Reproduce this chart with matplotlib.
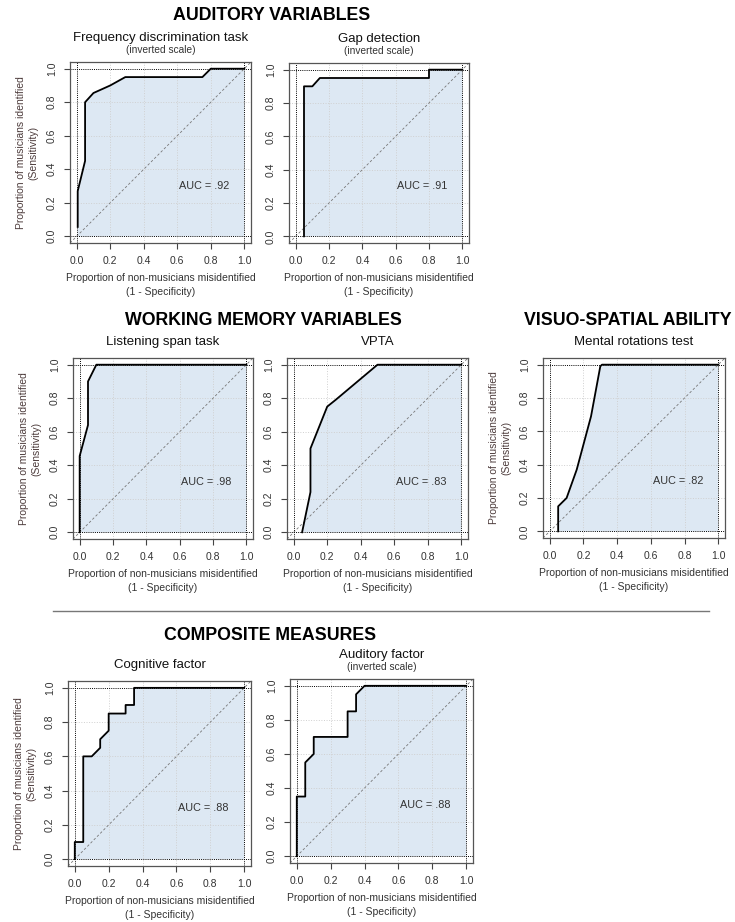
import matplotlib
matplotlib.use("Agg")
import matplotlib.pyplot as plt

plt.rcParams['font.family'] = ['Liberation Sans', 'DejaVu Sans']

W, H = 735, 922

# ROC curves (1 - specificity, sensitivity)
freq_fpr = [0.006, 0.006, 0.05, 0.05, 0.10, 0.20, 0.29, 0.75, 0.80, 1.0]
freq_tpr = [0.056, 0.27, 0.45, 0.80, 0.855, 0.90, 0.95, 0.95, 1.0, 1.0]

gap_fpr = [0.05, 0.05, 0.10, 0.145, 0.80, 0.80, 1.0]
gap_tpr = [0.0, 0.90, 0.90, 0.95, 0.95, 1.0, 1.0]

lspan_fpr = [0.0, 0.0, 0.05, 0.05, 0.10, 1.0]
lspan_tpr = [0.0, 0.455, 0.64, 0.90, 1.0, 1.0]

vpta_fpr = [0.05, 0.10, 0.10, 0.20, 0.25, 0.50, 1.0]
vpta_tpr = [0.0, 0.24, 0.50, 0.75, 0.79, 1.0, 1.0]

mrot_fpr = [0.05, 0.05, 0.10, 0.16, 0.245, 0.30, 0.31, 1.0]
mrot_tpr = [0.0, 0.15, 0.20, 0.37, 0.69, 0.99, 1.0, 1.0]

cog_fpr = [0.0, 0.0, 0.05, 0.05, 0.10, 0.15, 0.15, 0.20, 0.20, 0.30, 0.30, 0.35, 0.35, 1.0]
cog_tpr = [0.0, 0.10, 0.10, 0.60, 0.60, 0.65, 0.70, 0.75, 0.85, 0.85, 0.90, 0.90, 1.0, 1.0]

aud_fpr = [0.0, 0.0, 0.05, 0.05, 0.10, 0.10, 0.30, 0.30, 0.35, 0.35, 0.40, 1.0]
aud_tpr = [0.0, 0.35, 0.35, 0.55, 0.60, 0.70, 0.70, 0.85, 0.85, 0.95, 1.0, 1.0]

auc_labels = ['AUC = .92', 'AUC = .91', 'AUC = .98', 'AUC = .83',
              'AUC = .82', 'AUC = .88', 'AUC = .88']
panel_titles = ['Frequency discrimination task', 'Gap detection', 'Listening span task',
                'VPTA', 'Mental rotations test', 'Cognitive factor', 'Auditory factor']
inverted = [True, True, False, False, False, False, True]
has_ylabel = [True, False, True, False, True, True, False]
tick_vals = [0.0, 0.2, 0.4, 0.6, 0.8, 1.0]
tick_text = ['0.0', '0.2', '0.4', '0.6', '0.8', '1.0']

curves = [(freq_fpr, freq_tpr), (gap_fpr, gap_tpr), (lspan_fpr, lspan_tpr),
          (vpta_fpr, vpta_tpr), (mrot_fpr, mrot_tpr), (cog_fpr, cog_tpr),
          (aud_fpr, aud_tpr)]

# pixel boxes: left, top, right, bottom
boxes = [(70, 62, 251, 243), (289, 63, 469, 243),
         (73, 358, 253, 539), (287, 358, 468, 539), (543, 358, 725, 538),
         (68, 681, 251, 866), (290, 679, 473, 863)]

fig = plt.figure(figsize=(W / 100, H / 100), dpi=100)


def ftext(x, y, s, **kw):
    fig.text(x / W, 1 - y / H, s, ha='center', va='center', **kw)


fill_col = '#dde8f3'
label_col = '#4d3c3c'

for i, (fpr, tpr) in enumerate(curves):
    l, t, r, b = boxes[i]
    ax = fig.add_axes([l / W, 1 - b / H, (r - l) / W, (b - t) / H])
    ax.set_xlim(-0.04, 1.04)
    ax.set_ylim(-0.04, 1.04)

    for v in [0.2, 0.4, 0.6, 0.8]:
        ax.axvline(v, color='#d0d0d0', lw=0.7, ls=':', zorder=1)
        ax.axhline(v, color='#d0d0d0', lw=0.7, ls=':', zorder=1)

    px = list(fpr) + [1.0, fpr[0]]
    py = list(tpr) + [0.0, 0.0]
    ax.fill(px, py, color=fill_col, lw=0, zorder=0)

    for v in [0.0, 1.0]:
        ax.axvline(v, color='black', lw=0.7, ls=(0, (1, 1.2)), zorder=2)
        ax.axhline(v, color='black', lw=0.7, ls=(0, (1, 1.2)), zorder=2)

    ax.plot([-0.04, 1.04], [-0.04, 1.04], color='#777777', lw=0.6,
            ls=(0, (3, 2.5)), zorder=2)
    ax.plot(fpr, tpr, color='black', lw=1.3, zorder=3)

    ax.text(0.76, 0.30, auc_labels[i], ha='center', va='center',
            fontsize=7.8, color='#333333', zorder=4)

    ax.set_xticks(tick_vals)
    ax.set_xticklabels(tick_text)
    ax.set_yticks(tick_vals)
    ax.set_yticklabels(tick_text)
    ax.tick_params(direction='out', length=4.5, width=0.8, color='#444444',
                   labelsize=7.5, labelcolor='#333333', pad=5)
    ax.tick_params(axis='y', labelrotation=90)
    for lab in ax.get_yticklabels():
        lab.set_verticalalignment('center')
    for s in ax.spines.values():
        s.set_color('#555555')
        s.set_linewidth(0.9)

    cx = (l + r) / 2
    ftext(cx, b + 35, 'Proportion of non-musicians misidentified',
          fontsize=7.5, color='#333333')
    ftext(cx, b + 49, '(1 - Specificity)', fontsize=7.5, color='#333333')
    if has_ylabel[i]:
        cy = (t + b) / 2
        ftext(l - 49, cy, 'Proportion of musicians identified',
              fontsize=7.5, color=label_col, rotation=90)
        ftext(l - 37, cy, '(Sensitivity)', fontsize=7.5, color=label_col,
              rotation=90)

    if inverted[i]:
        ftext(cx, t - 24, panel_titles[i], fontsize=9.5, color='#111111')
        ftext(cx, t - 12, '(inverted scale)', fontsize=7.3, color='#333333')
    else:
        ftext(cx, t - 16, panel_titles[i], fontsize=9.5, color='#111111')

# group headings
ftext(272, 16, 'AUDITORY VARIABLES', fontsize=12.8, fontweight='bold')
ftext(263, 320, 'WORKING MEMORY VARIABLES', fontsize=12.8, fontweight='bold')
ftext(628, 320, 'VISUO-SPATIAL ABILITY', fontsize=12.8, fontweight='bold')
ftext(270, 635, 'COMPOSITE MEASURES', fontsize=12.8, fontweight='bold')

# separator
fig.add_artist(plt.Line2D([53 / W, 709 / W], [1 - 611 / H, 1 - 611 / H],
                          color='#777777', lw=1.0))

fig.savefig('out.png', dpi=100, facecolor='white')
